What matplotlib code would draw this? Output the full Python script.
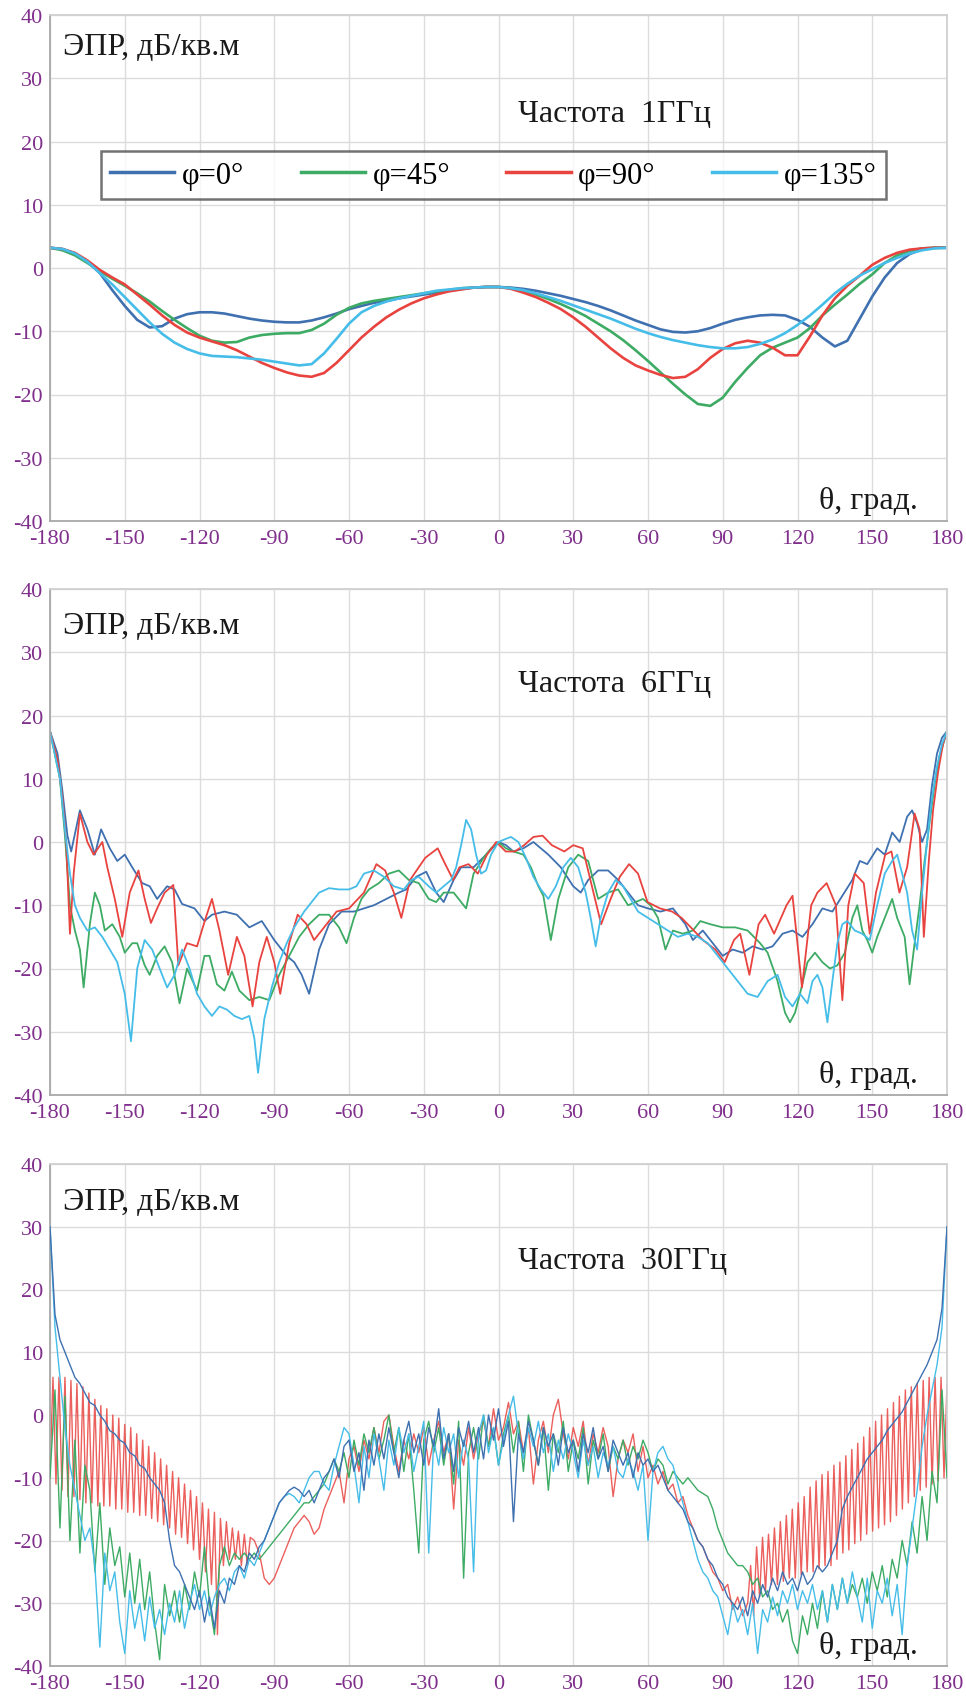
import numpy as np
import matplotlib
matplotlib.use("Agg")
import matplotlib.pyplot as plt

plt.rcParams['font.family'] = ['Liberation Serif', 'DejaVu Serif']
plt.rcParams['axes.unicode_minus'] = False

# ---------------- data ----------------
series_labels = ["φ=0°", "φ=45°", "φ=90°", "φ=135°"]
colors = ["#3f70b0", "#3dab64", "#e8433f", "#45bde8"]
x_ticks = [-180, -150, -120, -90, -60, -30, 0, 30, 60, 90, 120, 150, 180]
y_ticks = [-40, -30, -20, -10, 0, 10, 20, 30, 40]
freq_titles = ["Частота  1ГГц", "Частота  6ГГц", "Частота  30ГГц"]
ylab_text = "ЭПР, дБ/кв.м"
xlab_text = "θ, град."

# ---- 1 GHz (5 degree grid, -180..180) ----
f1_phi0 = [3.2, 3.0, 2.3, 1.0, -0.8, -3.5, -6.0, -8.2, -9.4, -9.2, -8.0, -7.3, -7.0,
           -7.0, -7.2, -7.6, -8.0, -8.3, -8.5, -8.6, -8.6, -8.3, -7.8, -7.2, -6.5,
           -6.0, -5.5, -5.2, -4.8, -4.5, -4.2, -3.9, -3.6, -3.3, -3.1, -3.0, -3.0,
           -3.1, -3.3, -3.6, -4.0, -4.4, -4.9, -5.4, -6.0, -6.7, -7.5, -8.3, -9.0,
           -9.7, -10.1, -10.2, -10.0, -9.5, -8.8, -8.2, -7.8, -7.5, -7.4, -7.5, -8.2,
           -9.3, -11.0, -12.4, -11.5, -8.0, -4.5, -1.5, 0.8, 2.2, 3.0, 3.2, 3.2]
f1_phi45 = [3.2, 2.8, 2.0, 0.8, -0.5, -1.7, -2.8, -4.0, -5.3, -6.8, -8.2, -9.5, -10.7,
            -11.5, -11.8, -11.7, -11.0, -10.6, -10.4, -10.3, -10.3, -9.8, -8.8, -7.4, -6.3,
            -5.6, -5.2, -4.9, -4.6, -4.3, -4.0, -3.7, -3.5, -3.2, -3.1, -3.0, -3.0,
            -3.2, -3.6, -4.2, -4.9, -5.7, -6.6, -7.6, -8.8, -10.0, -11.4, -13.0, -14.7,
            -16.5, -18.3, -20.0, -21.5, -21.8, -20.5, -18.0, -15.8, -13.8, -12.6, -11.8, -11.0,
            -9.5, -7.5, -5.8, -4.2, -2.5, -1.0, 0.8, 2.0, 2.7, 3.1, 3.2, 3.2]
f1_phi90 = [3.2, 3.0, 2.4, 1.2, -0.3, -1.5, -2.6, -4.2, -5.8, -7.5, -9.0, -10.2, -11.0,
            -11.6, -12.2, -13.0, -14.0, -15.0, -15.8, -16.5, -17.0, -17.2, -16.6, -15.0, -13.0,
            -11.0, -9.3, -7.8, -6.6, -5.6, -4.8, -4.2, -3.7, -3.4, -3.1, -3.0, -3.0,
            -3.3, -3.9, -4.6, -5.5, -6.5, -7.8, -9.3, -11.0, -12.7, -14.2, -15.4, -16.2,
            -16.9, -17.4, -17.2, -16.0, -14.2, -12.8, -11.9, -11.5, -11.8, -12.6, -13.8, -13.8,
            -10.8, -7.5, -4.8, -2.8, -1.2, 0.5, 1.6, 2.4, 2.9, 3.1, 3.2, 3.2]
f1_phi135 = [3.2, 3.0, 2.3, 1.0, -0.8, -2.6, -4.6, -6.6, -8.6, -10.4, -11.8, -12.8, -13.5,
             -13.9, -14.0, -14.1, -14.3, -14.5, -14.8, -15.1, -15.4, -15.2, -13.5, -11.2, -8.8,
             -7.0, -6.0, -5.3, -4.8, -4.4, -4.0, -3.6, -3.4, -3.2, -3.1, -3.0, -3.0,
             -3.2, -3.5, -4.0, -4.6, -5.2, -5.9, -6.6, -7.3, -8.0, -8.8, -9.6, -10.3,
             -10.9, -11.4, -11.8, -12.2, -12.5, -12.7, -12.7, -12.5, -12.0, -11.3, -10.3, -9.0,
             -7.5, -5.8, -4.0, -2.5, -1.2, -0.2, 0.8, 1.6, 2.3, 2.8, 3.1, 3.2]

# ---- 6 GHz (irregular theta vertices) ----
f6_phi0_th = [-180, -177, -175, -173, -171.5, -168, -165, -162, -159.5, -156, -153, -150, -147,
              -143, -140, -137, -133, -130, -127, -122, -118, -115, -110, -105, -100, -95, -90,
              -85, -82, -79, -76, -72, -68, -63, -58, -50, -45, -40, -37, -33, -29, -25, -22,
              -18, -15, -10, -5, 0, 3, 6, 10, 14, 17, 20, 25, 30, 33, 36, 40, 44, 48, 52, 56,
              60, 65, 70, 75, 78, 82, 86, 90, 94, 98, 102, 106, 110, 114, 118, 122, 126, 130,
              134, 138, 142, 145, 148, 152, 155, 158, 161, 164, 166, 168, 170, 172, 174, 176,
              178, 180]
f6_phi0 = [17.5, 14, 8, 1, -1.5, 5, 2, -2, 2, -1, -3, -2, -4,
           -6.5, -7, -9, -7, -7.5, -9.8, -10.5, -12.5, -11.5, -11, -11.5, -13.5, -12.5, -15.5,
           -18, -19, -21, -24, -17, -13, -11, -11, -10, -9, -8, -7.5, -5.5, -4.7, -8, -9.5,
           -6, -4, -4, -2, 0, -0.5, -1.5, -1, 0, -1, -2, -4, -7, -8, -6, -4.5, -4.5, -6, -8, -10,
           -10.5, -11, -10.5, -13, -15.5, -14, -16, -18, -17, -17.5, -16.5, -17, -16.5, -14.5, -14, -15, -13, -10.5,
           -11, -8.5, -6, -3, -3.5, -1, -2, 1.5, 0, 4, 5, 3, 0, 2, 9, 14,
           16.5, 17.5]
f6_phi45_th = [-180, -176, -174, -172, -170, -168, -166.5, -164, -162, -160, -158, -155, -152,
               -150, -147, -145, -142, -140, -137, -134, -131, -128, -125, -121, -118, -116, -113,
               -110, -107, -104, -100, -96, -92, -88, -84, -80, -76, -72, -68, -64, -61, -58, -55,
               -52, -48, -44, -40, -36, -32, -28, -25, -22, -18, -15, -13, -10, -6, -3, 0, 3, 6,
               10, 13, 16, 18, 21, 24, 28, 32, 36, 40, 44, 48, 52, 55, 58, 61, 64, 67, 70, 74, 78,
               81, 85, 90, 95, 100, 105, 108, 112, 115, 117, 119, 121, 124, 127, 130, 133, 136,
               139, 142, 144, 146, 148, 150, 152, 155, 158, 160, 163, 165, 167, 169, 171, 173,
               175, 177, 180]
f6_phi45 = [17.5, 10, 1, -10, -14, -17, -23, -13, -8, -10, -14, -13, -15,
            -17.5, -16, -16, -19.5, -21, -18, -16.5, -19, -25.5, -20, -23.5, -18, -18, -22.5,
            -23.5, -20.5, -23.5, -25, -24.5, -25, -21, -18, -15, -13, -11.5, -11.5, -13.5, -16, -12, -9,
            -7.5, -6.5, -5, -4.5, -6, -6.5, -9, -9.5, -8, -8, -9.5, -10.5, -5, -2.5, -1, 0, -1, -1.5,
            -2, -4, -7, -8.5, -15.5, -9, -4, -2, -3, -9, -8, -7.5, -10, -9.5, -9, -10, -12, -17, -14, -14.5, -14,
            -12.5, -13, -13.5, -13.5, -14, -16, -17.5, -22, -27, -28.5, -27, -24, -19, -17.5, -19, -20, -19.5,
            -17.5, -12, -10, -14, -15.5, -17.5, -15, -12, -9, -12, -15, -22.5, -16, -10, -3, 3,
            9, 13.5, 17.5]
f6_phi90_th = [-180, -177, -175, -173.5, -172, -170.5, -168, -165, -162.5, -159, -157, -154, -151,
               -148, -144.5, -142, -139.5, -137, -134, -130.5, -128.5, -125, -121, -117.5, -115,
               -112, -108.5, -105, -102, -98.7, -96, -93, -90, -87.6, -84, -80.6, -77, -74, -69,
               -65, -60, -54, -49, -45.5, -42, -39, -35.5, -29.4, -24.4, -22, -18.2, -15.7, -12,
               -8.3, -4.6, -0.9, 2.9, 6.6, 10.3, 14, 17.7, 21.4, 26.4, 30, 33.8, 37.5, 41.2, 45,
               48.7, 52.4, 56, 59.8, 64.8, 69.7, 73.5, 78.4, 82, 87, 90.8, 94.5, 97, 100.7, 104.4,
               107, 110.6, 115.6, 118, 121.8, 125.5, 128, 131.7, 135.4, 138, 140.4, 143, 146.6,
               149, 151.5, 155.2, 157.7, 160.9, 164, 167, 169, 170.7, 172.7, 174.4, 176.4, 178.4,
               180]
f6_phi90 = [17.5, 13, 7, 0, -14.5, -5, 4.5, 0, -2, 0, -4, -9, -15,
            -8, -4.5, -9, -12.8, -10.5, -8, -6.8, -19.5, -16, -16.5, -12, -9,
            -14, -21, -15, -18, -26, -19, -15, -19, -24, -16, -11.5, -13, -15.5, -13,
            -11, -10.5, -8, -3.5, -4.5, -8, -12, -6, -2.5, -1, -3, -6, -4, -3.5,
            -5, -2, 0, -1.5, -1.5, -0.5, 0.8, 1, -0.5, -1.5, -0.5, -1, -7, -13, -9,
            -5.5, -3.5, -5, -9.5, -10.5, -11, -12, -14, -15.5, -17, -19, -15.5, -14.5, -21, -13,
            -11.5, -14.5, -10, -8.5, -23, -10, -8, -6.5, -10, -25, -10, -5, -6.5,
            -14.5, -8, -2, -1.5, -8, -4, 4.5, 2, -15, -3, 5, 11, 15.5,
            17.5]
f6_phi135_th = [-180, -176, -174, -172, -170, -168, -165, -162, -159, -156, -153, -150, -147.5,
                -145, -142, -139, -136, -133, -130, -127, -124, -121, -118, -115, -112, -109, -106,
                -103, -100, -98, -96.5, -94, -91, -88, -85, -82, -78, -75, -72, -68, -64, -60, -57,
                -54, -50, -46, -42, -38, -35, -32, -28, -25, -22, -19, -17, -15, -13, -11, -9, -7,
                -5, -3, 0, 3, 5, 8, 11, 14, 17, 20, 23, 26, 29, 32, 35, 37, 39, 41, 44, 47, 50, 53,
                56, 60, 64, 68, 72, 76, 80, 84, 88, 92, 96, 100, 104, 108, 112, 115, 118, 121, 124,
                126, 128, 130, 132, 134, 136, 138, 140, 143, 146, 149, 152, 155, 158, 160, 162, 164,
                166, 168, 170, 172, 174, 176, 178, 180]
f6_phi135 = [17.5, 10, 2, -5, -10, -12, -14, -13.5, -15, -17, -19, -24, -31.5,
             -20, -15.5, -17, -20, -23, -21, -17, -20, -24, -26, -27.5, -26, -26.5, -27.5,
             -28, -27.5, -31, -36.5, -28, -23, -19, -16, -13.5, -11, -9.5, -8, -7.3, -7.5, -7.5, -7,
             -5, -4.5, -5.5, -7, -7.5, -6, -5.5, -7, -8, -7, -6, -4, -0.5, 3.5, 2, -2, -5,
             -4.5, -2, 0, 0.5, 0.8, 0, -2.5, -5.5, -7.5, -9, -7, -4, -2.5, -4, -8, -12, -16.5, -12, -8, -6, -7, -9,
             -11, -12, -13, -14, -15, -14.5, -15, -16, -18, -20, -22, -24, -24.5, -22, -21, -24.5, -26, -24, -25.5,
             -22, -21, -23, -28.5, -22, -16, -13, -12.5, -14, -14.5, -15.5, -10, -5, -3, -2, -5, -8,
             -14, -17, -8, 0, 7, 12, 15.5, 17.5]

# ---- 30 GHz ----
# phi=0, 45, 135 on a 2 degree grid (-180..180)
f30_phi0 = [30, 16, 12, 10, 8, 6, 5, 3.5, 2, 1.5,
            0, -1, -2.5, -3, -4, -4.5, -6, -6.5, -8, -8.5,
            -10, -11, -12, -14, -20, -24, -25, -27, -29, -31,
            -28, -33, -29, -34, -28, -30, -26, -27, -24, -25,
            -22, -23, -21, -20, -18, -16, -14, -13, -12, -11.5,
            -12, -13, -12, -14, -12, -10, -9, -7, -10, -5,
            -4, -9, -6, -12, -4, -8, -3, -7, -2, -6,
            -10, -4, -1, -6, -3, -8, -2, -5, 1, -7,
            -3, -9, -2, -5, -1, -6, -2, -7, 0, -4,
            1, -5, -1, -17, -3, -6, -1, -4, -8, -2,
            -5, -3, -8, -2, -6, -4, -9, -3, -6, -2,
            -7, -5, -9, -4, -6, -8, -6, -10, -6, -8,
            -7, -9, -8, -10, -12, -13, -14, -15, -17, -18,
            -20, -21, -23, -24, -26, -27, -29, -30, -31, -29,
            -32, -28, -30, -27, -29, -26, -28, -25, -27, -26,
            -28, -25, -27, -26, -24, -25, -24, -22, -20, -15,
            -13, -11.5, -10, -8.5, -7, -6, -5, -4, -2.5, -1.5,
            -0.5, 0.5, 2, 3.5, 5, 6.5, 8, 10, 12, 17,
            30]
f30_phi45 = [-10, 4, -18, 3, -20, -4, -22, -8, -12, -25,
             -14, -27, -18, -24, -21, -29, -22, -30, -23, -31,
             -25, -33, -39, -27, -32, -28, -33, -27, -31, -25,
             -29, -21, -30, -35, -24, -21, -24, -22, -23, -22,
             -23, -22, -23, -22, -21, -20, -19, -18, -17, -16,
             -15, -14, -14, -13, -12, -11, -9, -7, -9, -6,
             -10, -4, -8, -3, -6, -2, -7, -4, 0, -6,
             -2, -9, -3, -12, -22, -4, -1, -6, -2, -8,
             -3, -11, -1, -26, -6, -2, -7, 0, -5, -2,
             -8, -3, 0, -6, -1, -9, 0, -4, -8, -2,
             -12, -3, -6, -1, -9, -4, -7, -2, -11, -4,
             -7, -3, -9, -5, -7, -4, -8, -5, -7, -4,
             -6, -9, -7, -8, -11, -9, -10, -11, -10, -11,
             -12, -12.5, -13, -15, -18, -20, -22, -23, -24, -24,
             -25, -27, -26, -29, -28, -31, -30, -33, -31, -36,
             -38, -32, -35, -30, -34, -28, -33, -27, -31, -26,
             -30, -27, -29, -26, -30, -25, -28, -24, -29, -23,
             -26, -20, -24, -17, -22, -13, -20, -9, -14, 4,
             -10]
f30_phi135 = [30, 14, 6, -2, -8, -12, -16, -20, -18, -24,
              -37, -22, -28, -25, -33, -38, -28, -34, -30, -36,
              -29, -34, -31, -35, -30, -33, -28, -34, -30, -27,
              -31, -28, -32, -29, -27, -26, -28, -25, -24, -26,
              -23, -24, -22, -20, -18, -16, -14, -13, -12.5, -13,
              -14, -12, -10, -9, -9, -11, -12, -8, -5, -2,
              -3, -8, -14, -5, -10, -3, -7, -12, -4, -8,
              -2, -6, -3, -9, -5, -1, -22, -4, -8, -2,
              -6, -3, -10, -4, -7, -25, -3, 0, -6, -2,
              -8, -4, 0, 3, -3, -7, -2, -5, -1, -6,
              -3, -9, -4, -7, -3, -6, -10, -4, -8, -5,
              -10, -6, -8, -5, -9, -10, -7, -9, -12, -8,
              -20, -9, -6, -5, -7, -8, -11, -14, -17, -20,
              -23, -25, -26, -28, -29, -32, -35, -30, -33, -31,
              -35, -30, -38, -31, -33, -29, -32, -28, -30, -27,
              -31, -28, -30, -27, -31, -28, -33, -27, -31, -26,
              -30, -25, -29, -33, -26, -34, -28, -30, -26, -32,
              -27, -35, -24, -18, -12, -5, 0, 4, 8, 14,
              30]
# phi=90: fine grid near the edges (-180..-99.6 and 100..180), 2 degree grid in between
f30_phi90_left = [-9, 6, -11, 6, -12, 6, -13, 5.5, -13, 5,
                  -13.5, 4.5, -14, 3.5, -14, 2.5, -14.5, 1.5, -14.5, 1,
                  -14.5, 0, -15, -0.5, -15, -1.5, -15.5, -2, -15.5, -3,
                  -16, -4, -16, -5, -16.5, -6, -17, -7, -17.5, -8,
                  -18, -9, -19, -10, -19.5, -11, -20.5, -12, -21.5, -13,
                  -23, -14, -25, -15, -27, -15.5, -35, -16.5, -24, -17,
                  -23, -18, -23, -18.5, -24, -19, -24, -19.5]
f30_phi90_mid = [-20, -22, -26, -27, -26, -24, -22, -20, -18, -17,
                 -16, -17, -19, -18, -15, -13, -11, -9, -14, -7,
                 -5, -9, -4, -7, -2, -6, -1, 0, -5, -9,
                 -4, -7, -3, -6, -2, -8, -4, -1, -6, -3,
                 -15, -4, -8, -2, -7, -3, -1, -5, 1, -4,
                 -2, 2, -3, -1, -6, -2, -11, -4, -1, -6,
                 0, 2.5, -3, -7, -2, -5, -1, -8, -3, -6,
                 -2, -5, -13, -7, -4, -6, -3, -9, -5, -10,
                 -8, -11, -9, -12, -11, -14, -13, -16, -18, -20,
                 -21, -23, -25, -26, -28, -27, -31, -29, -32]
f30_phi90_right = [-30, -24, -32, -21, -29, -19.5, -28, -19, -27, -18,
                   -27, -17, -26.5, -16, -26, -15, -26, -14, -25.5, -13,
                   -25, -11.5, -25, -10.5, -24.5, -9.5, -24, -9, -24, -8,
                   -23, -7.5, -22, -6.5, -21.5, -5.5, -20.5, -4.5, -20, -3.5,
                   -19, -2, -18.5, -1, -18, 0, -17.5, 1, -17, 2,
                   -16, 3, -15, 4, -14, 4.5, -13, 5, -12, 5.5,
                   -11.5, 6, -11, 6, -10.5, 6, -10, 5]

# ---------------- figure ----------------
W, H = 966, 1699
fig = plt.figure(figsize=(W / 100, H / 100), dpi=100)

panel_px = [(16, 522), (590, 1096), (1165, 1667)]
left_px, right_px = 50, 947

tick_color = "#80308c"
grid_color = "#dcdcdc"


def make_axes(top, bottom):
    ax = fig.add_axes([left_px / W, 1 - bottom / H, (right_px - left_px) / W, (bottom - top) / H])
    ax.set_xlim(-180, 180)
    ax.set_ylim(-40, 40)
    ax.set_xticks(x_ticks)
    ax.set_yticks(y_ticks)
    ax.grid(True, color=grid_color, lw=1.0)
    ax.set_axisbelow(True)
    ax.tick_params(axis='both', length=0, labelsize=16, labelcolor=tick_color)
    ax.tick_params(axis='x', pad=6)
    ax.tick_params(axis='y', pad=5)
    for s in ['top', 'right']:
        ax.spines[s].set_color('#d0d0d0')
    for s in ['left', 'bottom']:
        ax.spines[s].set_color('#a8a8a8')
    for s in ax.spines.values():
        s.set_linewidth(1.3)
    return ax


axes = [make_axes(t, b) for t, b in panel_px]

# ---- panel 1 ----
ax = axes[0]
lines = []
for vals, c, lab in zip([f1_phi0, f1_phi45, f1_phi90, f1_phi135], colors, series_labels):
    l, = ax.plot(np.linspace(-180, 180, len(vals)), vals, color=c, lw=1.9, label=lab)
    lines.append(l)
leg = ax.legend(handles=lines, loc='center', ncol=4, mode='expand',
                bbox_to_anchor=(0.057, 0.636, 0.875, 0.095), fontsize=22,
                frameon=True, fancybox=False, handlelength=2.1, handletextpad=0.25,
                borderaxespad=0, borderpad=0.3)
leg.get_frame().set_edgecolor('#505050')
leg.get_frame().set_linewidth(1.8)
for h in leg.get_lines():
    h.set_linewidth(2.5)

# ---- panel 2 ----
ax = axes[1]
for th, vals, c in zip([f6_phi0_th, f6_phi45_th, f6_phi90_th, f6_phi135_th],
                       [f6_phi0, f6_phi45, f6_phi90, f6_phi135], colors):
    ax.plot(th, vals, color=c, lw=1.3)

# ---- panel 3 ----
ax = axes[2]
red_th = np.concatenate([np.linspace(-180, -99.6, len(f30_phi90_left)),
                         np.linspace(-98, 98, len(f30_phi90_mid)),
                         np.linspace(100, 180, len(f30_phi90_right))])
red_v = np.concatenate([f30_phi90_left, f30_phi90_mid, f30_phi90_right])
ax.plot(red_th, red_v, color=colors[2], lw=1.0, alpha=0.85, zorder=2)
ax.plot(np.linspace(-180, 180, len(f30_phi45)), f30_phi45, color=colors[1], lw=1.0, zorder=3)
ax.plot(np.linspace(-180, 180, len(f30_phi135)), f30_phi135, color=colors[3], lw=1.0, zorder=4)
ax.plot(np.linspace(-180, 180, len(f30_phi0)), f30_phi0, color=colors[0], lw=1.0, zorder=5)

# ---- texts ----
title_y = [0.806, 0.813, 0.808]
ylab_y = [0.937, 0.928, 0.925]
for ax, t, ty, yy in zip(axes, freq_titles, title_y, ylab_y):
    ax.text(0.0145, yy, ylab_text, transform=ax.transAxes, fontsize=23,
            ha='left', va='center', color='#1a1a1a')
    ax.text(0.522, ty, t, transform=ax.transAxes, fontsize=23,
            ha='left', va='center', color='#1a1a1a')
    ax.text(0.968, 0.04, xlab_text, transform=ax.transAxes, fontsize=23,
            ha='right', va='center', color='#1a1a1a')

fig.savefig("out.png", dpi=100)
